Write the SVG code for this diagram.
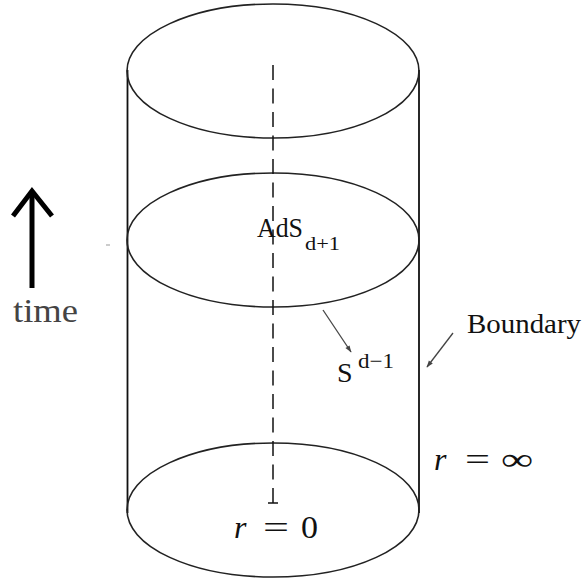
<svg xmlns="http://www.w3.org/2000/svg" width="582" height="581" viewBox="0 0 582 581">
<style>
.ell{fill:none;stroke:#222;stroke-width:1.6}
.side{stroke:#111;stroke-width:1.8}
text{font-family:"Liberation Serif","DejaVu Serif","Noto Serif",serif;fill:#111}
.it{font-style:italic}
.ptr{stroke:#444;stroke-width:1.3;fill:none}
</style>
<defs>
<marker id="ah" viewBox="0 0 10 10" refX="9" refY="5" markerWidth="9" markerHeight="7" markerUnits="userSpaceOnUse" orient="auto">
<path d="M0,1.5 L10,5 L0,8.5 Z" fill="#444"/>
</marker>
</defs>
<rect width="582" height="581" fill="#fff"/>
<g id="cylinder">
<line class="side" x1="127.5" y1="70" x2="127.5" y2="513"/>
<line class="side" x1="419" y1="70" x2="419" y2="513"/>
<ellipse class="ell" cx="273" cy="71" rx="146" ry="67"/>
<ellipse class="ell" cx="273" cy="240" rx="146" ry="67"/>
<ellipse class="ell" cx="273" cy="510" rx="146" ry="67"/>
</g>
<g id="axis">
<line x1="273" y1="65" x2="273" y2="503" stroke="#111" stroke-width="1.5" stroke-dasharray="15 8.5"/>
<line x1="268" y1="503" x2="278" y2="503" stroke="#111" stroke-width="1.5"/>
</g>
<g id="connectors">
<line class="ptr" x1="323" y1="310" x2="351" y2="352" marker-end="url(#ah)"/>
<line class="ptr" x1="453" y1="333" x2="427" y2="367" marker-end="url(#ah)"/>
</g>
<g id="time-arrow">
<line x1="32" y1="192" x2="32" y2="288" stroke="#000" stroke-width="5"/>
<polyline points="13,216 32,191 52,216" fill="none" stroke="#000" stroke-width="5"/>
<text x="13" y="322" font-family="Liberation Serif, DejaVu Serif, serif" font-size="33" textLength="65" lengthAdjust="spacingAndGlyphs" style="fill:#444">time</text>
</g>
<line x1="106" y1="245" x2="110" y2="245" stroke="#999" stroke-width="1"/>
<g id="label-ads">
<text x="257" y="237" font-size="27" textLength="46" lengthAdjust="spacingAndGlyphs">AdS</text>
<text x="305" y="250" font-size="19" textLength="35" lengthAdjust="spacingAndGlyphs">d+1</text>
</g>
<g id="label-s">
<text x="337" y="382" font-size="28">S</text>
<text x="358" y="368" font-size="21" textLength="36" lengthAdjust="spacingAndGlyphs">d−1</text>
</g>
<g id="label-boundary">
<text x="467" y="333" font-size="28" textLength="114" lengthAdjust="spacingAndGlyphs">Boundary</text>
</g>
<g id="label-rinf">
<text class="it" x="434" y="470" font-size="32">r</text>
<text x="465" y="470" font-size="32" textLength="25" lengthAdjust="spacingAndGlyphs">=</text>
<text x="501" y="470" font-size="32" textLength="32" lengthAdjust="spacingAndGlyphs">∞</text>
</g>
<g id="label-r0">
<text class="it" x="234" y="538" font-size="32">r</text>
<text x="263" y="538" font-size="32" textLength="26" lengthAdjust="spacingAndGlyphs">=</text>
<text x="301" y="538" font-size="32" textLength="17" lengthAdjust="spacingAndGlyphs">0</text>
</g>
</svg>
